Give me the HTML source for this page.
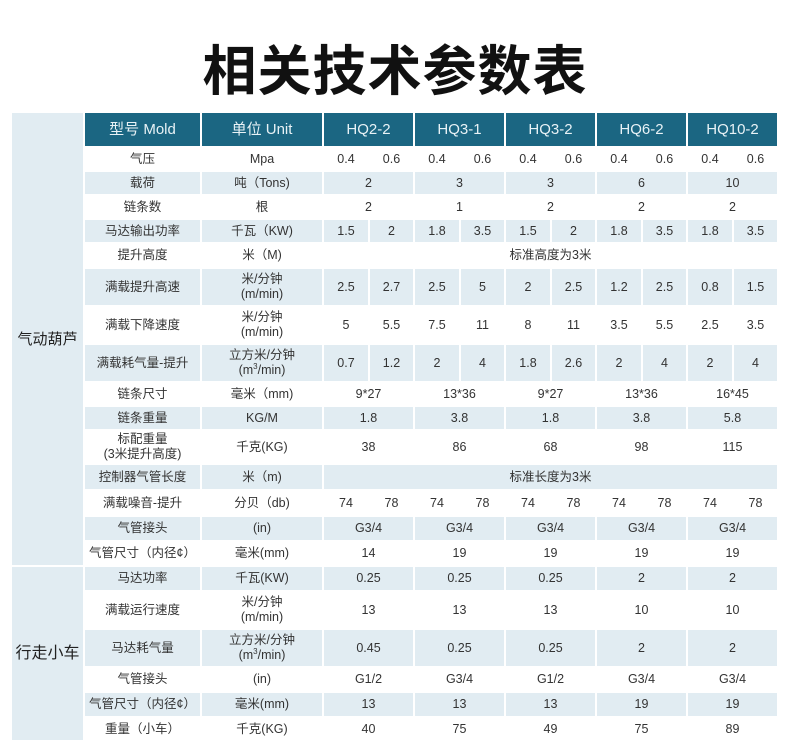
<!DOCTYPE html>
<html><head><meta charset="utf-8">
<style>
body{margin:0;width:790px;height:746px;background:#fff;position:relative;overflow:hidden;font-family:"Liberation Sans","Noto Sans CJK SC",sans-serif;}
h1{position:absolute;top:36px;left:0;width:790px;margin:0;text-align:center;font-size:54px;font-weight:bold;color:#111;line-height:62px;font-family:"Noto Sans CJK SC",sans-serif;letter-spacing:1px;}
table{position:absolute;left:10px;top:111px;border-collapse:collapse;table-layout:fixed;}
td{border:2px solid #fff;padding:0;text-align:center;font-size:12.5px;color:#333;line-height:15px;overflow:hidden;}
tr.b td{background:#e1ecf2;}
td.cat{background:#e1ecf2 !important;font-size:16px;color:#222 !important;}
tr.h td{background:#1b6682;color:#e8f2f6;font-size:15px;}
sup{font-size:8px;line-height:0;}
</style></head><body>
<h1>相关技术参数表</h1>
<table>
<colgroup><col style="width:73px"><col style="width:117px"><col style="width:122px">
<col style="width:46px"><col style="width:45px"><col style="width:46px"><col style="width:45px"><col style="width:46px"><col style="width:45px"><col style="width:46px"><col style="width:45px"><col style="width:46px"><col style="width:45px"></colgroup>
<tr class="h" style="height:35px"><td class="cat" rowspan="16" style="padding-top:0px">气动葫芦</td><td>型号 Mold</td><td>单位 Unit</td><td colspan="2">HQ2-2</td><td colspan="2">HQ3-1</td><td colspan="2">HQ3-2</td><td colspan="2">HQ6-2</td><td colspan="2">HQ10-2</td></tr>
<tr style="height:24px"><td>气压</td><td>Mpa</td><td>0.4</td><td>0.6</td><td>0.4</td><td>0.6</td><td>0.4</td><td>0.6</td><td>0.4</td><td>0.6</td><td>0.4</td><td>0.6</td></tr>
<tr class="b" style="height:24px"><td>载荷</td><td>吨（Tons)</td><td colspan="2">2</td><td colspan="2">3</td><td colspan="2">3</td><td colspan="2">6</td><td colspan="2">10</td></tr>
<tr style="height:24px"><td>链条数</td><td>根</td><td colspan="2">2</td><td colspan="2">1</td><td colspan="2">2</td><td colspan="2">2</td><td colspan="2">2</td></tr>
<tr class="b" style="height:24px"><td>马达输出功率</td><td>千瓦（KW)</td><td>1.5</td><td>2</td><td>1.8</td><td>3.5</td><td>1.5</td><td>2</td><td>1.8</td><td>3.5</td><td>1.8</td><td>3.5</td></tr>
<tr style="height:25px"><td>提升高度</td><td>米（M)</td><td colspan="10">标准高度为3米</td></tr>
<tr class="b" style="height:38px"><td>满载提升高速</td><td>米/分钟<br>(m/min)</td><td>2.5</td><td>2.7</td><td>2.5</td><td>5</td><td>2</td><td>2.5</td><td>1.2</td><td>2.5</td><td>0.8</td><td>1.5</td></tr>
<tr style="height:38px"><td>满载下降速度</td><td>米/分钟<br>(m/min)</td><td>5</td><td>5.5</td><td>7.5</td><td>11</td><td>8</td><td>11</td><td>3.5</td><td>5.5</td><td>2.5</td><td>3.5</td></tr>
<tr class="b" style="height:38px"><td>满载耗气量-提升</td><td>立方米/分钟<br>(m<sup>3</sup>/min)</td><td>0.7</td><td>1.2</td><td>2</td><td>4</td><td>1.8</td><td>2.6</td><td>2</td><td>4</td><td>2</td><td>4</td></tr>
<tr style="height:24px"><td>链条尺寸</td><td>毫米（mm)</td><td colspan="2">9*27</td><td colspan="2">13*36</td><td colspan="2">9*27</td><td colspan="2">13*36</td><td colspan="2">16*45</td></tr>
<tr class="b" style="height:24px"><td>链条重量</td><td>KG/M</td><td colspan="2">1.8</td><td colspan="2">3.8</td><td colspan="2">1.8</td><td colspan="2">3.8</td><td colspan="2">5.8</td></tr>
<tr style="height:34px"><td>标配重量<br>(3米提升高度)</td><td>千克(KG)</td><td colspan="2">38</td><td colspan="2">86</td><td colspan="2">68</td><td colspan="2">98</td><td colspan="2">115</td></tr>
<tr class="b" style="height:26px"><td>控制器气管长度</td><td>米（m)</td><td colspan="10">标准长度为3米</td></tr>
<tr style="height:26px"><td>满载噪音-提升</td><td>分贝（db)</td><td>74</td><td>78</td><td>74</td><td>78</td><td>74</td><td>78</td><td>74</td><td>78</td><td>74</td><td>78</td></tr>
<tr class="b" style="height:25px"><td>气管接头</td><td>(in)</td><td colspan="2">G3/4</td><td colspan="2">G3/4</td><td colspan="2">G3/4</td><td colspan="2">G3/4</td><td colspan="2">G3/4</td></tr>
<tr style="height:25px"><td>气管尺寸（内径¢）</td><td>毫米(mm)</td><td colspan="2">14</td><td colspan="2">19</td><td colspan="2">19</td><td colspan="2">19</td><td colspan="2">19</td></tr>
<tr class="b" style="height:25px"><td class="cat" rowspan="6">行走小车</td><td>马达功率</td><td>千瓦(KW)</td><td colspan="2">0.25</td><td colspan="2">0.25</td><td colspan="2">0.25</td><td colspan="2">2</td><td colspan="2">2</td></tr>
<tr style="height:38px"><td>满载运行速度</td><td>米/分钟<br>(m/min)</td><td colspan="2">13</td><td colspan="2">13</td><td colspan="2">13</td><td colspan="2">10</td><td colspan="2">10</td></tr>
<tr class="b" style="height:38px"><td>马达耗气量</td><td>立方米/分钟<br>(m<sup>3</sup>/min)</td><td colspan="2">0.45</td><td colspan="2">0.25</td><td colspan="2">0.25</td><td colspan="2">2</td><td colspan="2">2</td></tr>
<tr style="height:25px"><td>气管接头</td><td>(in)</td><td colspan="2">G1/2</td><td colspan="2">G3/4</td><td colspan="2">G1/2</td><td colspan="2">G3/4</td><td colspan="2">G3/4</td></tr>
<tr class="b" style="height:25px"><td>气管尺寸（内径¢）</td><td>毫米(mm)</td><td colspan="2">13</td><td colspan="2">13</td><td colspan="2">13</td><td colspan="2">19</td><td colspan="2">19</td></tr>
<tr style="height:24px"><td>重量（小车）</td><td>千克(KG)</td><td colspan="2">40</td><td colspan="2">75</td><td colspan="2">49</td><td colspan="2">75</td><td colspan="2">89</td></tr>
</table>
</body></html>
